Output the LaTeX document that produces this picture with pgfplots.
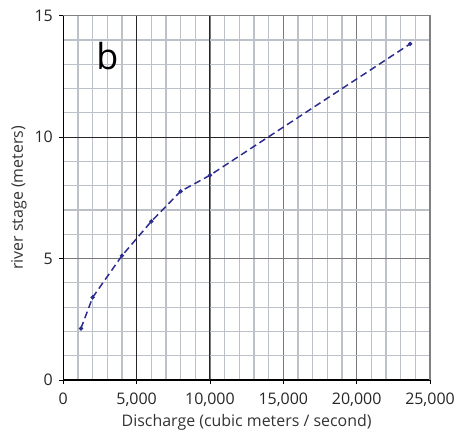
\documentclass[border=0pt]{standalone}
\usepackage{pgfplots}
\pgfplotsset{compat=1.18}
\usepackage{fontspec}
\setmainfont{Open Sans}
\definecolor{curve}{RGB}{45,45,145}
\definecolor{minorgrid}{RGB}{188,193,200}
\definecolor{majorgrid}{RGB}{120,120,120}
\begin{document}
\begin{tikzpicture}
\useasboundingbox (-63.3bp,-67bp) rectangle (410.7bp,380bp);
\begin{axis}[
    scale only axis,
    width=366.7bp,
    height=364.3bp,
    xmin=0, xmax=25000,
    ymin=0, ymax=15,
    xtick={0,5000,10000,15000,20000,25000},
    ytick={0,5,10,15},
    minor x tick num=4,
    minor y tick num=4,
    minor tick length=0pt,
    major tick length=4bp,
    tick align=outside,
    tick style={black, line width=0.8bp},
    grid=both,
    minor grid style={minorgrid, line width=1.2bp},
    major grid style={majorgrid, line width=1.2bp},
    axis x line*=bottom,
    axis y line*=left,
    axis line style={black, line width=1.1bp, -},
    /pgf/number format/assume math mode=true,
    /pgf/number format/1000 sep={,},
    scaled x ticks=false,
    ticklabel style={font=\fontsize{16}{18}\selectfont, text=black!85},
    xticklabel style={yshift=-5bp},
    yticklabel style={xshift=-3bp},
    label style={font=\fontsize{16}{19}\selectfont, text=black!80},
    xlabel={Discharge (cubic meters / second)},
    ylabel={river stage (meters)},
    xlabel style={yshift=-1bp},
    ylabel style={yshift=1bp},
    clip=false,
]
\draw[black!85, line width=1bp] (axis cs:0,10) -- (axis cs:25000,10);
\draw[black!85, line width=1bp] (axis cs:5000,0) -- (axis cs:5000,15);
\draw[black!85, line width=1bp] (axis cs:10000,0) -- (axis cs:10000,15);
\draw[gray, line width=1.4bp] (rel axis cs:0,1) -- (rel axis cs:1,1) -- (rel axis cs:1,0);
\addplot[curve, dash pattern=on 7bp off 4bp, line width=1.5bp,
    mark=*, mark size=1.3bp, mark options={solid}]
    coordinates {
    (1200, 2.12)
    (2000, 3.4)
    (4000, 5.12)
    (6000, 6.53)
    (8000, 7.77)
    (10000, 8.43)
    (23650, 13.84)
};
\node[font=\fontsize{36}{40}\selectfont] at (axis cs:3000,13.35) {b};
\end{axis}
\end{tikzpicture}
\end{document}
